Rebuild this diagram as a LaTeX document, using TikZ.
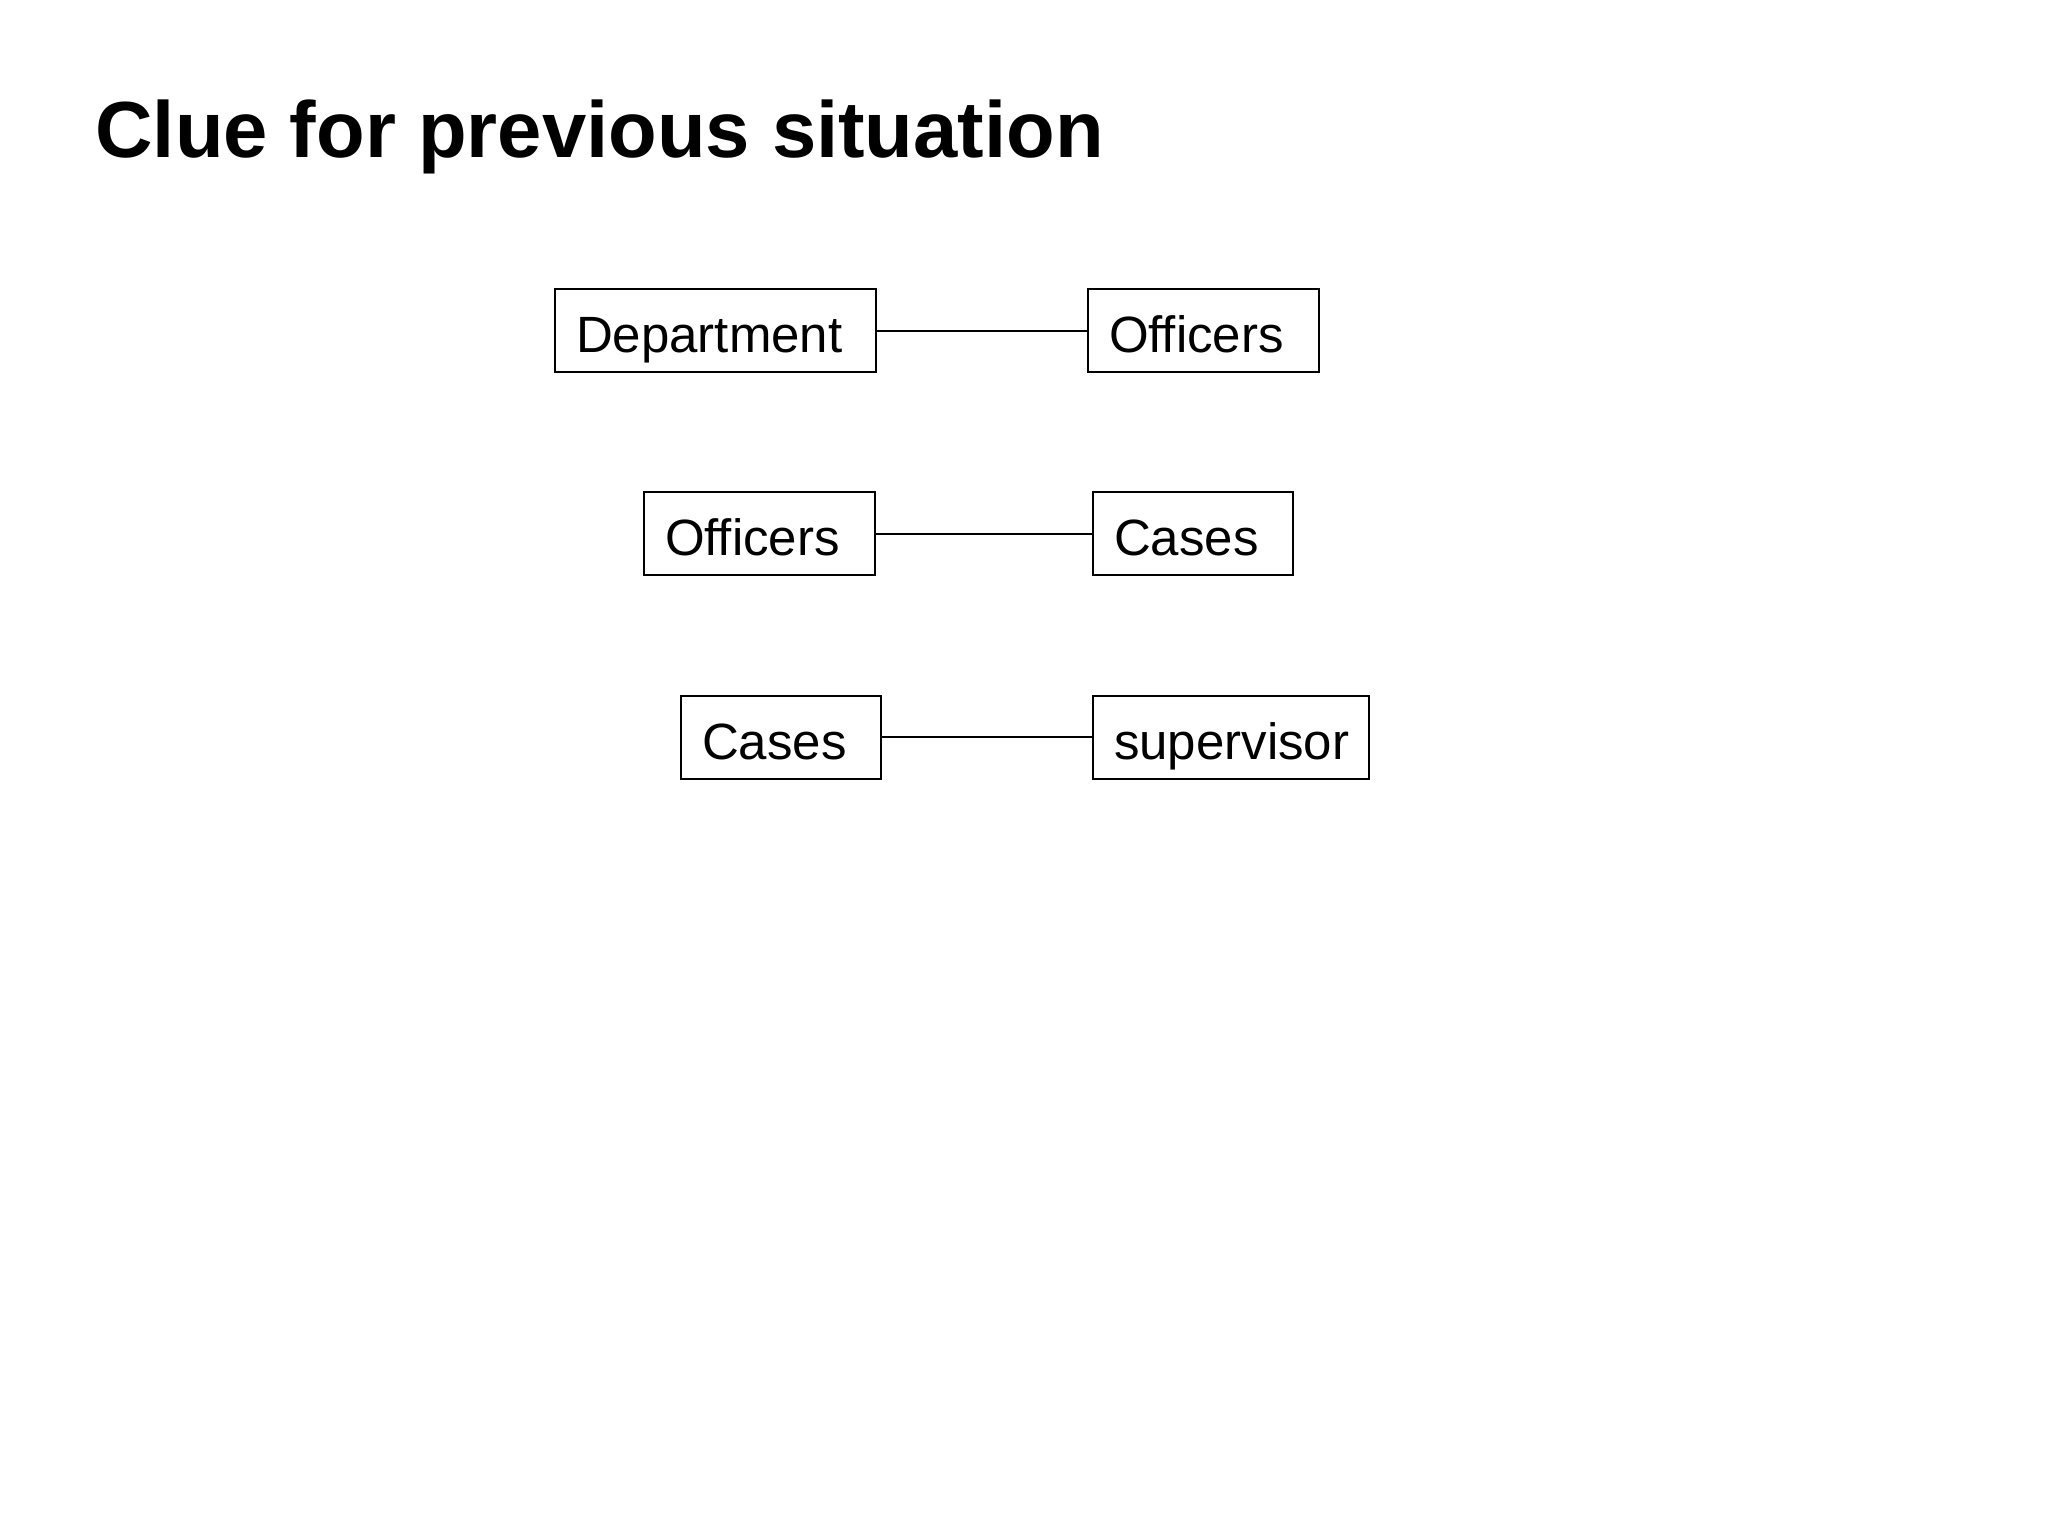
\documentclass[tikz,border=0pt]{standalone}
\usepackage{fontspec}
\setmainfont{Liberation Sans}
\begin{document}
\begin{tikzpicture}[x=0.5pt,y=-0.5pt,
  entbox/.style={draw, line width=1pt, anchor=west, minimum height=41.5pt,
    inner xsep=10.5pt, inner ysep=0pt, align=left, text height=22pt, text depth=0pt,
    font=\fontsize{25.5}{30}\selectfont},
  link/.style={line width=1pt}]
\useasboundingbox (0,0) rectangle (2048,1536);
\node[anchor=base west, inner sep=0pt, font=\fontsize{39.8}{46}\selectfont\bfseries] (title) at (95,157) {Clue for previous situation};
\node[entbox, text width=139.5pt] (dept) at (554,330.5) {Department};
\node[entbox, text width=94.5pt] (off1) at (1087,330.5) {Officers};
\node[entbox, text width=94.5pt] (off2) at (643,533.5) {Officers};
\node[entbox, text width=79pt] (cas2) at (1092,533.5) {Cases};
\node[entbox, text width=79pt] (cas3) at (680,737) {Cases};
\node[entbox, text width=117pt] (sup) at (1092,737) {supervisor};
\draw[link] (dept.east) -- (off1.west);
\draw[link] (off2.east) -- (cas2.west);
\draw[link] (cas3.east) -- (sup.west);
\end{tikzpicture}
\end{document}
